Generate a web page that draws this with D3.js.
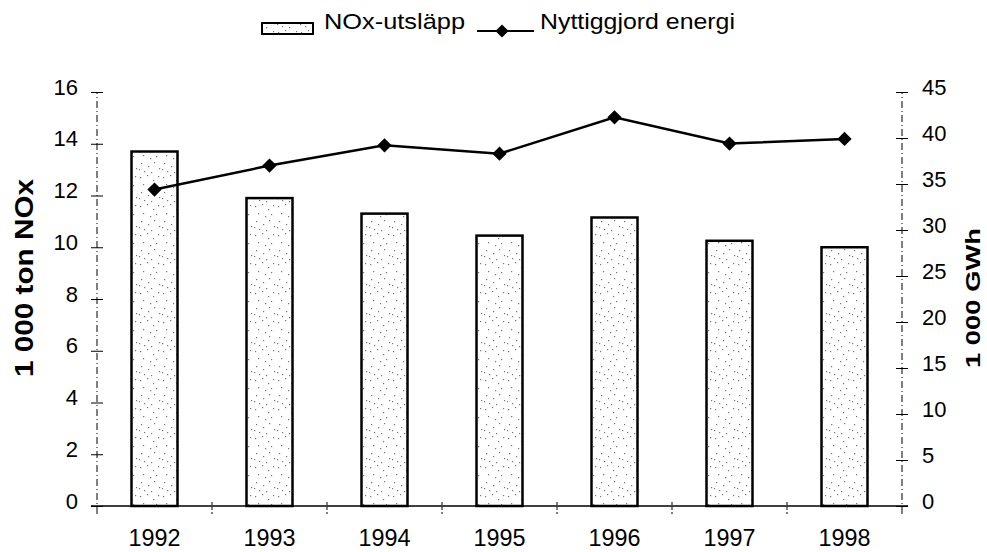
<!DOCTYPE html>
<html>
<head>
<meta charset="utf-8">
<script src="https://cdn.jsdelivr.net/npm/d3@7"></script>
<style>
  body { margin: 0; background: #fff; }
  svg { font-family: "Liberation Sans", Arial, sans-serif; }
</style>
</head>
<body>
<svg id="chart" width="987" height="552"></svg>
<script>
// data
const years = ['1992', '1993', '1994', '1995', '1996', '1997', '1998'];
const noxValues = [13.7, 11.9, 11.3, 10.45, 11.15, 10.25, 10.0];     // 1 000 ton NOx
const energyValues = [34.4, 37.0, 39.2, 38.3, 42.25, 39.4, 39.9];  // 1 000 GWh
const leftTicks = [0, 2, 4, 6, 8, 10, 12, 14, 16];
const rightTicks = [0, 5, 10, 15, 20, 25, 30, 35, 40, 45];

const svg = d3.select('#chart');
const margin = { left: 97, right: 85, top: 92, bottom: 46 };
const W = 987, H = 552;
const x0 = margin.left, x1 = W - margin.right;
const y0 = H - margin.bottom, y1 = margin.top;

const x = d3.scaleBand().domain(years).range([x0, x1]).paddingInner(0.6).paddingOuter(0.3);
const yL = d3.scaleLinear().domain([0, 16]).range([y0, y1]);
const yR = d3.scaleLinear().domain([0, 45]).range([y0, y1]);

// stippled fill for bars
const defs = svg.append('defs');
const pat = defs.append('pattern').attr('id', 'stipple')
  .attr('patternUnits', 'userSpaceOnUse').attr('width', 23).attr('height', 29);
pat.append('rect').attr('width', 23).attr('height', 29).attr('fill', '#fff');
const dots = [[2,3],[9,1],[15,6],[20,2],[5,10],[12,13],[18,11],[3,18],[10,21],[16,17],[21,23],[6,26],[13,27],[1,24]];
pat.selectAll('rect.d').data(dots).enter().append('rect').attr('class', 'd')
  .attr('x', d => d[0]).attr('y', d => d[1]).attr('width', 1.2).attr('height', 1.2).attr('fill', '#777');

// bars
svg.append('g').selectAll('rect').data(years).enter().append('rect')
  .attr('x', d => x(d))
  .attr('y', (d, i) => yL(noxValues[i]))
  .attr('width', x.bandwidth())
  .attr('height', (d, i) => y0 - yL(noxValues[i]))
  .attr('fill', 'url(#stipple)')
  .attr('stroke', '#000').attr('stroke-width', 2.5);

// axes
const axisStyle = (g, size) => {
  g.selectAll('.domain').remove();
  g.selectAll('text').attr('font-size', size).attr('fill', '#000');
};

const gl = svg.append('g').attr('transform', `translate(${x0},0)`)
  .call(d3.axisLeft(yL).tickValues(leftTicks).tickSize(0).tickPadding(19));
axisStyle(gl, 22);
gl.selectAll('.tick text').attr('y', -5);
gl.append('line').attr('y1', y0 + 8).attr('y2', y1).attr('stroke', '#000').attr('stroke-dasharray', '7,3,1,3');
gl.selectAll('.tick').append('line').attr('x1', -6).attr('x2', 6).attr('stroke', '#000');

const gr = svg.append('g').attr('transform', `translate(${x1},0)`)
  .call(d3.axisRight(yR).tickValues(rightTicks).tickSize(0).tickPadding(20));
axisStyle(gr, 22);
gr.selectAll('.tick text').attr('y', -5);
gr.append('line').attr('y1', y0 + 8).attr('y2', y1).attr('stroke', '#000').attr('stroke-dasharray', '7,3,1,3');
gr.selectAll('.tick').append('line').attr('x1', -6).attr('x2', 6).attr('stroke', '#000');

const gx = svg.append('g').attr('transform', `translate(0,${y0})`)
  .call(d3.axisBottom(x).tickSize(0).tickPadding(23));
axisStyle(gx, 24);
gx.selectAll('.tick text').attr('textLength', 52).attr('lengthAdjust', 'spacingAndGlyphs');
gx.append('line').attr('x1', x0 - 6).attr('x2', x1 + 6).attr('stroke', '#000').attr('stroke-width', 1.5);
const step = x.step();
gx.selectAll('line.sep').data(d3.range(1, years.length)).enter().append('line').attr('class', 'sep')
  .attr('x1', i => x0 + i * step).attr('x2', i => x0 + i * step)
  .attr('y1', -4).attr('y2', 8).attr('stroke', '#000').attr('stroke-dasharray', '3,2');

// energy line
const line = d3.line().x((d, i) => x(years[i]) + x.bandwidth() / 2).y(d => yR(d));
svg.append('path').datum(energyValues).attr('d', line)
  .attr('fill', 'none').attr('stroke', '#000').attr('stroke-width', 2.5);
svg.append('g').selectAll('path').data(energyValues).enter().append('path')
  .attr('d', d3.symbol(d3.symbolDiamond2, 130))
  .attr('transform', (d, i) => `translate(${x(years[i]) + x.bandwidth() / 2},${yR(d)})`)
  .attr('fill', '#000');

// axis titles
svg.append('text').attr('transform', 'translate(33,278) rotate(-90)')
  .attr('text-anchor', 'middle').attr('font-size', 26).attr('font-weight', 'bold')
  .attr('textLength', 198).attr('lengthAdjust', 'spacingAndGlyphs').text('1 000 ton NOx');
svg.append('text').attr('transform', 'translate(980,298) rotate(-90)')
  .attr('text-anchor', 'middle').attr('font-size', 21).attr('font-weight', 'bold')
  .attr('textLength', 140).attr('lengthAdjust', 'spacingAndGlyphs').text('1 000 GWh');

// legend
const lg = svg.append('g');
lg.append('rect').attr('x', 262).attr('y', 23).attr('width', 51).attr('height', 11)
  .attr('fill', 'url(#stipple)').attr('stroke', '#000').attr('stroke-width', 2);
lg.append('text').attr('x', 324).attr('y', 29).attr('font-size', 22)
  .attr('textLength', 141).attr('lengthAdjust', 'spacingAndGlyphs').text('NOx-utsläpp');
lg.append('line').attr('x1', 477).attr('x2', 534).attr('y1', 31).attr('y2', 31).attr('stroke', '#000').attr('stroke-width', 2);
lg.append('path').attr('d', d3.symbol(d3.symbolDiamond2, 110)).attr('transform', 'translate(502,31)');
lg.append('text').attr('x', 540).attr('y', 29).attr('font-size', 22)
  .attr('textLength', 195).attr('lengthAdjust', 'spacingAndGlyphs').text('Nyttiggjord energi');
</script>
</body>
</html>
